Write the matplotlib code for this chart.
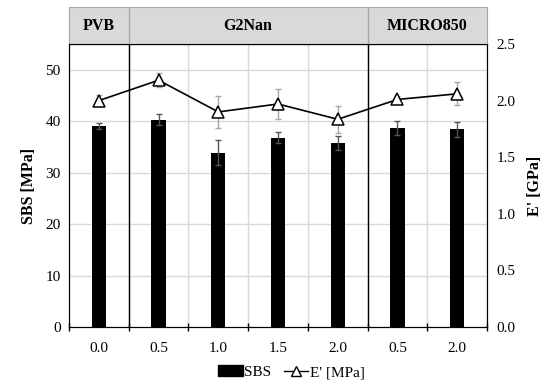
import numpy as np
import matplotlib.pyplot as plt
from matplotlib.patches import Patch
from matplotlib.lines import Line2D

plt.rcParams['font.family'] = ['Liberation Serif', 'DejaVu Serif']

# data ------------------------------------------------------------
tick_labels = ['0.0', '0.5', '1.0', '1.5', '2.0', '0.5', '2.0']
groups = ['PVB', 'G2Nan', 'MICRO850']
group_sizes = [1, 4, 2]
sbs = [39.1, 40.3, 33.9, 36.8, 35.8, 38.7, 38.4]
sbs_err = [0.6, 1.0, 2.5, 1.0, 1.4, 1.4, 1.4]
e_mod = [2.00, 2.18, 1.90, 1.97, 1.835, 2.01, 2.06]
e_err = [0.05, 0.06, 0.14, 0.13, 0.12, 0.03, 0.10]

x = np.arange(len(sbs))
grid_c = '#d9d9d9'

fig = plt.figure(figsize=(5.5, 3.89), dpi=100)
ax = fig.add_axes([0.1255, 0.1594, 0.76, 0.7275])
ax2 = ax.twinx()

# grid
for yv in range(10, 60, 10):
    ax.axhline(yv, color=grid_c, lw=1, zorder=0)
for xv in np.arange(-0.5, len(sbs), 1.0):
    ax.axvline(xv, color=grid_c, lw=1, zorder=0)

ax.bar(x, sbs, width=0.24, color='black', zorder=2)
ax.errorbar(x, sbs, yerr=sbs_err, fmt='none', ecolor='#555555', elinewidth=1, capsize=2.5, zorder=3)

# group separators
bounds = np.cumsum(group_sizes)[:-1] - 0.5
for b in bounds:
    ax.axvline(b, color='black', lw=1, zorder=4)

ax.set_xlim(-0.5, len(sbs) - 0.5)
ax.set_ylim(0, 55)
ax.set_yticks(range(0, 60, 10))
ax.set_xticks(x)
ax.set_xticklabels(tick_labels, fontsize=11)
ax.set_xticks(np.arange(-0.5, len(sbs), 1.0), minor=True)
ax.tick_params(axis='x', which='major', length=0, pad=11)
ax.tick_params(axis='x', which='minor', length=6, direction='inout', width=1)
ax.tick_params(axis='y', length=0, labelsize=11, pad=6)
ax.set_ylabel('SBS [MPa]', fontsize=11.5, fontweight='bold', labelpad=6)
for s in ax.spines.values():
    s.set_color('black')

ax2.errorbar(x, e_mod, yerr=e_err, fmt='none', ecolor='#a6a6a6', elinewidth=1, capsize=2.5, zorder=3)
ax2.plot(x, e_mod, color='black', lw=1.2, marker='^', markersize=9,
         markerfacecolor='white', markeredgecolor='black', markeredgewidth=1.1, zorder=4)
ax2.set_ylim(0, 2.5)
ax2.set_yticks(np.arange(0, 2.51, 0.5))
ax2.set_yticklabels([f'{v:.1f}' for v in np.arange(0, 2.51, 0.5)])
ax2.tick_params(axis='y', length=0, labelsize=11, pad=7)
ax2.set_ylabel("E' [GPa]", fontsize=11.5, fontweight='bold', labelpad=8)

# header band
axh = fig.add_axes([0.1255, 0.8869, 0.76, 0.0951])
axh.set_xlim(-0.5, len(sbs) - 0.5)
axh.set_ylim(0, 1)
axh.set_facecolor(grid_c)
axh.set_xticks([])
axh.set_yticks([])
for s in axh.spines.values():
    s.set_color('#a6a6a6')
axh.spines['bottom'].set_color('black')
for b in bounds:
    axh.axvline(b, color='#a6a6a6', lw=1)
starts = np.concatenate([[0], np.cumsum(group_sizes)[:-1]])
for g, st, n in zip(groups, starts, group_sizes):
    axh.text(st + (n - 1) / 2, 0.48, g, ha='center', va='center',
             fontsize=11.5, fontweight='bold')

handles = [Patch(facecolor='black', edgecolor='black'),
           Line2D([], [], color='black', lw=1, marker='^', markersize=7,
                  markerfacecolor='white', markeredgecolor='black')]
fig.legend(handles, ['SBS', "E' [MPa]"], loc='center', bbox_to_anchor=(0.53, 0.043),
           ncol=2, frameon=False, fontsize=11, handlelength=1.6, handletextpad=0.1,
           columnspacing=0.8)

fig.savefig('out.png', dpi=100)
